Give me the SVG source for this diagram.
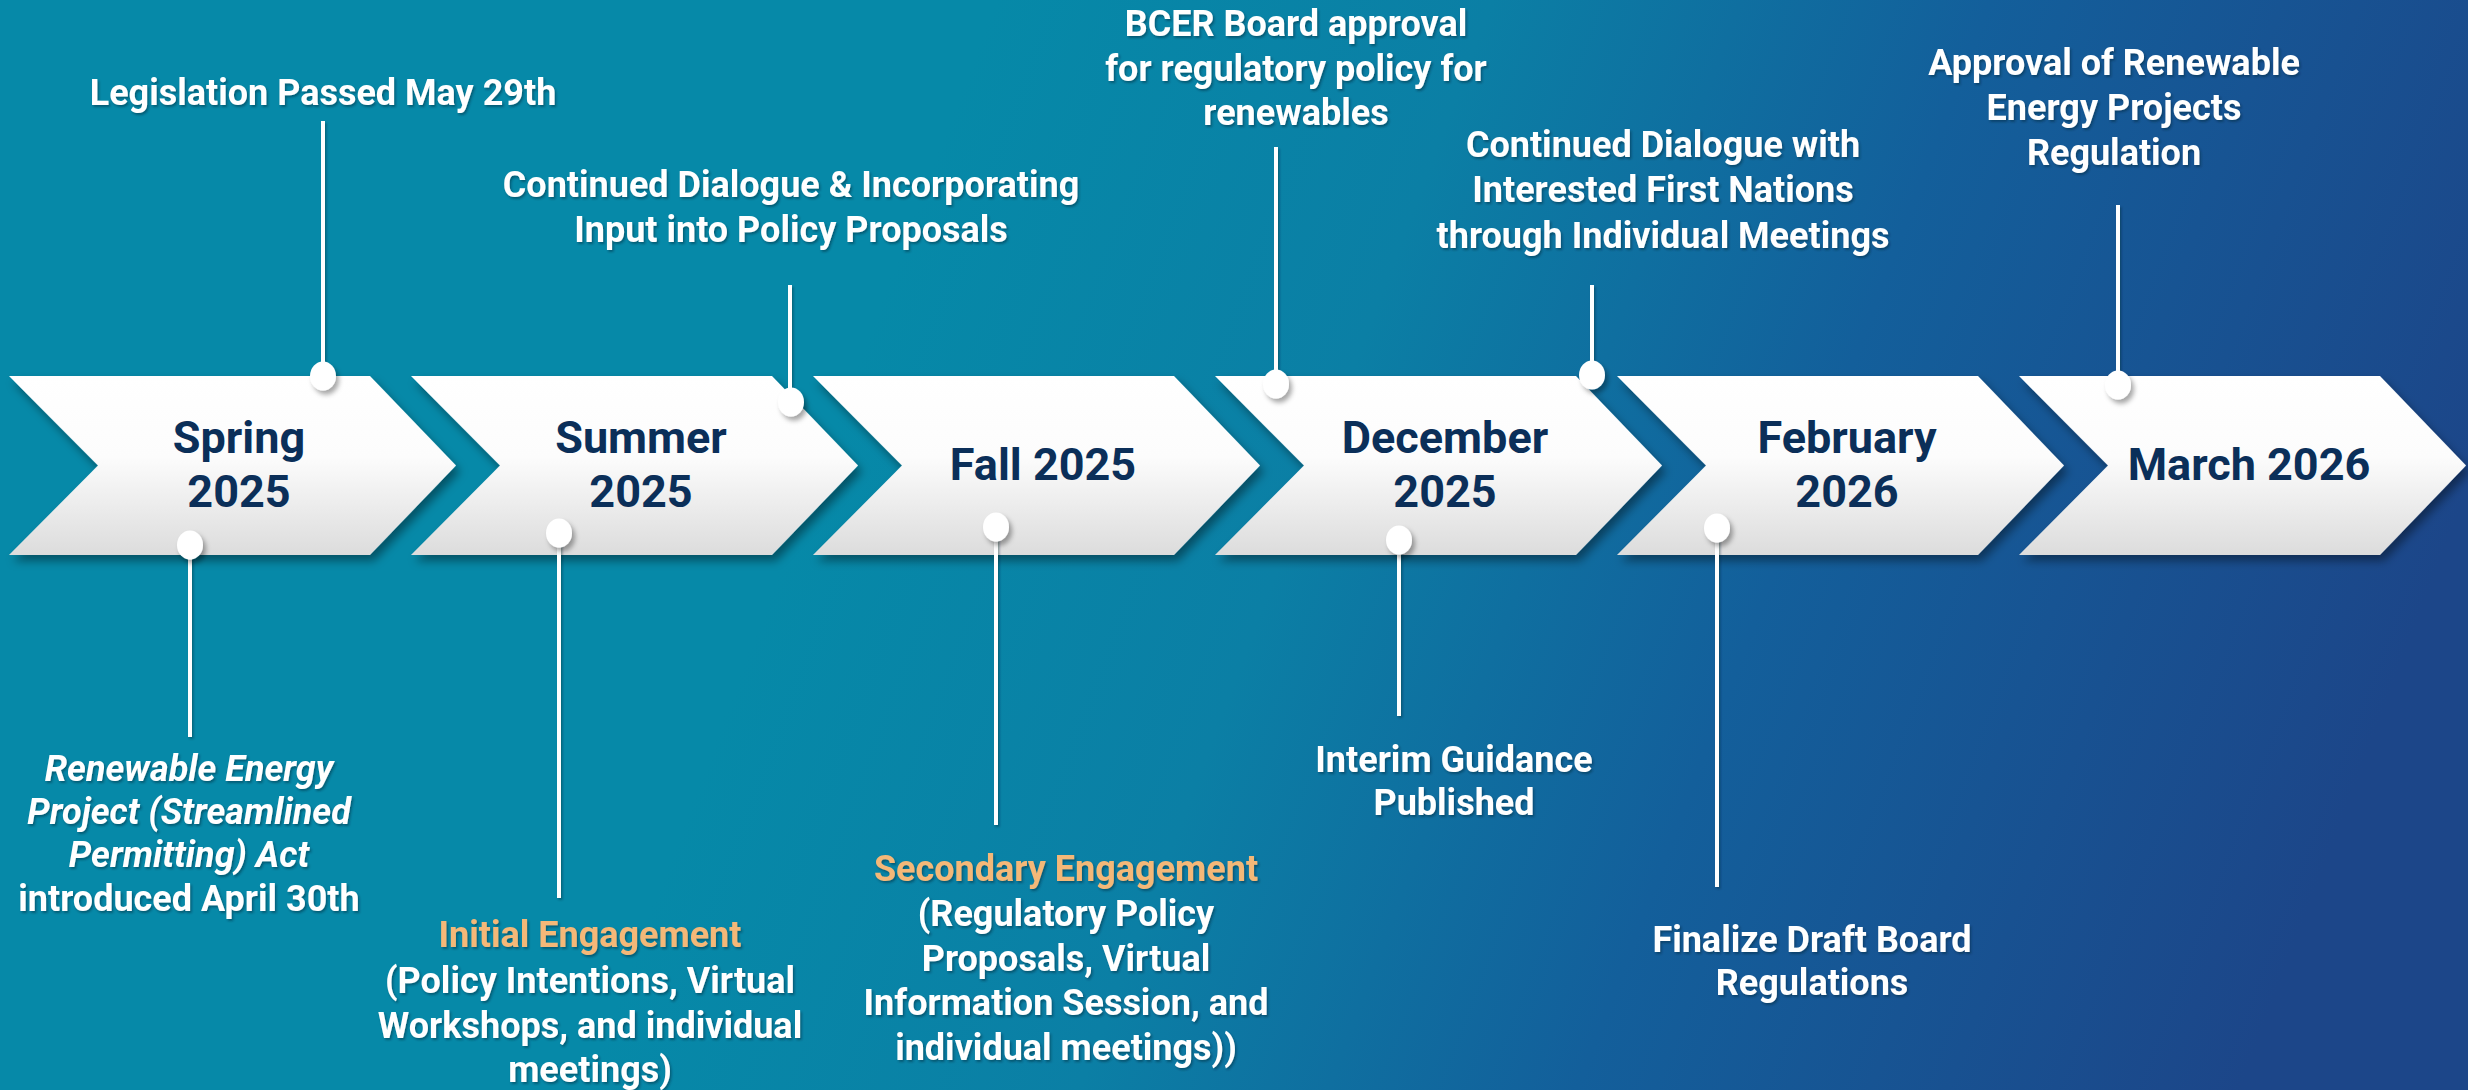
<svg xmlns="http://www.w3.org/2000/svg" width="2468" height="1090" viewBox="0 0 2468 1090">
<defs>
<linearGradient id="bg" gradientUnits="userSpaceOnUse" x1="900" y1="250" x2="2350" y2="800">
<stop offset="0" stop-color="#0689a8"/>
<stop offset="0.3" stop-color="#0b7fa5"/>
<stop offset="0.6" stop-color="#135f9b"/>
<stop offset="1" stop-color="#1c4689"/>
</linearGradient>
<linearGradient id="chev" x1="0" y1="0" x2="0" y2="1">
<stop offset="0" stop-color="#ffffff"/>
<stop offset="0.45" stop-color="#fcfcfc"/>
<stop offset="1" stop-color="#dcdcdc"/>
</linearGradient>
<filter id="sh" x="-10%" y="-10%" width="130%" height="140%">
<feDropShadow dx="4" dy="6" stdDeviation="5" flood-color="#000" flood-opacity="0.4"/>
</filter>
<filter id="dsh" x="-50%" y="-50%" width="200%" height="200%">
<feDropShadow dx="3" dy="4" stdDeviation="2.5" flood-color="#000" flood-opacity="0.35"/>
</filter>
<filter id="tsh" x="-5%" y="-20%" width="110%" height="150%">
<feDropShadow dx="1.5" dy="2" stdDeviation="1" flood-color="#002030" flood-opacity="0.45"/>
</filter>
<filter id="lsh" filterUnits="userSpaceOnUse" x="0" y="0" width="2468" height="1090">
<feDropShadow dx="1.5" dy="2" stdDeviation="1" flood-color="#002030" flood-opacity="0.4"/>
</filter>
<path id="chevShape" d="M0,376 H361 L447,465.5 L361,555 H0 L89,465.5 Z"/>
</defs>
<style>
.chev{fill:url(#chev);filter:url(#sh)}
.lbl{font-family:Roboto,"Liberation Sans",sans-serif;font-weight:700;font-size:45px;fill:#0b2f59;text-anchor:middle}
.ann{font-family:Roboto,"Liberation Sans",sans-serif;font-weight:700;font-size:36px;fill:#ffffff;text-anchor:middle;filter:url(#tsh)}
.it{font-style:italic}
.or{fill:#f4b878}
.ln{stroke:#ffffff;stroke-width:4;fill:none}
.dot{fill:#ffffff;filter:url(#dsh)}
</style>
<rect width="2468" height="1090" fill="url(#bg)"/>

<g id="chevron-spring"><use href="#chevShape" class="chev" transform="translate(9,0)"/>
<text class="lbl" x="239" y="453">Spring</text><text class="lbl" x="239" y="507">2025</text></g>
<g id="chevron-summer"><use href="#chevShape" class="chev" transform="translate(411,0)"/>
<text class="lbl" x="641" y="453">Summer</text><text class="lbl" x="641" y="507">2025</text></g>
<g id="chevron-fall"><use href="#chevShape" class="chev" transform="translate(813,0)"/>
<text class="lbl" x="1043" y="480">Fall 2025</text></g>
<g id="chevron-december"><use href="#chevShape" class="chev" transform="translate(1215,0)"/>
<text class="lbl" x="1445" y="453">December</text><text class="lbl" x="1445" y="507">2025</text></g>
<g id="chevron-february"><use href="#chevShape" class="chev" transform="translate(1617,0)"/>
<text class="lbl" x="1847" y="453">February</text><text class="lbl" x="1847" y="507">2026</text></g>
<g id="chevron-march"><use href="#chevShape" class="chev" transform="translate(2019,0)"/>
<text class="lbl" x="2249" y="480">March 2026</text></g>

<g id="connectors">
<g filter="url(#lsh)">
<path class="ln" d="M323,121 V376"/>
<path class="ln" d="M790,285 V402"/>
<path class="ln" d="M1276,147 V384"/>
<path class="ln" d="M1592,285 V375"/>
<path class="ln" d="M2118,205 V385"/>
<path class="ln" d="M190,545 V737"/>
<path class="ln" d="M559,533 V898"/>
<path class="ln" d="M996,527 V825"/>
<path class="ln" d="M1399,540 V716"/>
<path class="ln" d="M1717,528 V887"/>
</g>
<ellipse class="dot" cx="323" cy="376" rx="13" ry="14.5"/>
<ellipse class="dot" cx="791" cy="402" rx="13" ry="14.5"/>
<ellipse class="dot" cx="1276" cy="384" rx="13" ry="14.5"/>
<ellipse class="dot" cx="1592" cy="375" rx="13" ry="14.5"/>
<ellipse class="dot" cx="2118" cy="385" rx="13" ry="14.5"/>
<ellipse class="dot" cx="190" cy="545" rx="13" ry="14.5"/>
<ellipse class="dot" cx="559" cy="533" rx="13" ry="14.5"/>
<ellipse class="dot" cx="996" cy="527" rx="13" ry="14.5"/>
<ellipse class="dot" cx="1399" cy="540" rx="13" ry="14.5"/>
<ellipse class="dot" cx="1717" cy="528" rx="13" ry="14.5"/>
</g>

<g id="note-legislation"><text class="ann" x="323" y="105">Legislation Passed May 29th</text></g>
<g id="note-continued-dialogue"><text class="ann" x="791" y="197">Continued Dialogue &amp; Incorporating</text><text class="ann" x="791" y="242">Input into Policy Proposals</text></g>
<g id="note-bcer-board"><text class="ann" x="1296" y="36">BCER Board approval</text><text class="ann" x="1296" y="81">for regulatory policy for</text><text class="ann" x="1296" y="125">renewables</text></g>
<g id="note-first-nations"><text class="ann" x="1663" y="157">Continued Dialogue with</text><text class="ann" x="1663" y="202">Interested First Nations</text><text class="ann" x="1663" y="248">through Individual Meetings</text></g>
<g id="note-approval"><text class="ann" x="2114" y="75">Approval of Renewable</text><text class="ann" x="2114" y="120">Energy Projects</text><text class="ann" x="2114" y="165">Regulation</text></g>

<g id="note-act"><text class="ann it" x="189" y="781">Renewable Energy</text><text class="ann it" x="189" y="824">Project (Streamlined</text><text class="ann it" x="189" y="867">Permitting) Act</text><text class="ann" x="189" y="911">introduced April 30th</text></g>
<g id="note-initial"><text class="ann or" x="590" y="947">Initial Engagement</text><text class="ann" x="590" y="993">(Policy Intentions, Virtual</text><text class="ann" x="590" y="1038">Workshops, and individual</text><text class="ann" x="590" y="1082">meetings)</text></g>
<g id="note-secondary"><text class="ann or" x="1066" y="881">Secondary Engagement</text><text class="ann" x="1066" y="926">(Regulatory Policy</text><text class="ann" x="1066" y="971">Proposals, Virtual</text><text class="ann" x="1066" y="1015">Information Session, and</text><text class="ann" x="1066" y="1060">individual meetings))</text></g>
<g id="note-interim"><text class="ann" x="1454" y="772">Interim Guidance</text><text class="ann" x="1454" y="815">Published</text></g>
<g id="note-finalize"><text class="ann" x="1812" y="952">Finalize Draft Board</text><text class="ann" x="1812" y="995">Regulations</text></g>
</svg>
